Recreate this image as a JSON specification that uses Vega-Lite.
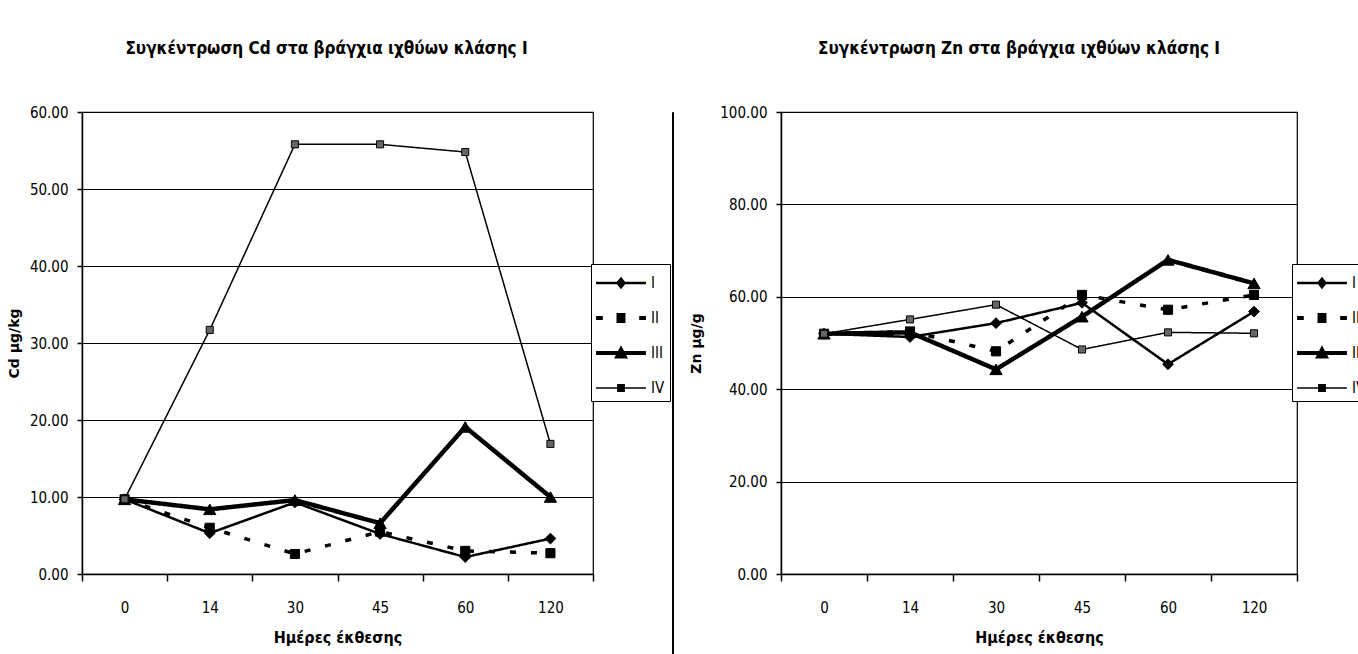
{
  "$schema": "https://vega.github.io/schema/vega-lite/v6.json",
  "background": "white",
  "padding": {"left": 6, "top": 0, "right": 0, "bottom": 0},
  "data": {"values": [
    {"day": 0, "series": "I", "Cd": 9.7, "Zn": 52.0},
    {"day": 14, "series": "I", "Cd": 5.3, "Zn": 51.3},
    {"day": 30, "series": "I", "Cd": 9.3, "Zn": 54.3},
    {"day": 45, "series": "I", "Cd": 5.2, "Zn": 58.7},
    {"day": 60, "series": "I", "Cd": 2.2, "Zn": 45.4},
    {"day": 120, "series": "I", "Cd": 4.6, "Zn": 56.8},
    {"day": 0, "series": "II", "Cd": 9.7, "Zn": 52.0},
    {"day": 14, "series": "II", "Cd": 6.0, "Zn": 52.5},
    {"day": 30, "series": "II", "Cd": 2.6, "Zn": 48.2},
    {"day": 45, "series": "II", "Cd": 5.5, "Zn": 60.4},
    {"day": 60, "series": "II", "Cd": 3.0, "Zn": 57.2},
    {"day": 120, "series": "II", "Cd": 2.7, "Zn": 60.4},
    {"day": 0, "series": "III", "Cd": 9.7, "Zn": 52.0},
    {"day": 14, "series": "III", "Cd": 8.4, "Zn": 52.3},
    {"day": 30, "series": "III", "Cd": 9.6, "Zn": 44.3},
    {"day": 45, "series": "III", "Cd": 6.6, "Zn": 55.7},
    {"day": 60, "series": "III", "Cd": 19.1, "Zn": 68.0},
    {"day": 120, "series": "III", "Cd": 10.0, "Zn": 62.9},
    {"day": 0, "series": "IV", "Cd": 9.7, "Zn": 52.0},
    {"day": 14, "series": "IV", "Cd": 31.7, "Zn": 55.1},
    {"day": 30, "series": "IV", "Cd": 55.8, "Zn": 58.3},
    {"day": 45, "series": "IV", "Cd": 55.8, "Zn": 48.6},
    {"day": 60, "series": "IV", "Cd": 54.8, "Zn": 52.3},
    {"day": 120, "series": "IV", "Cd": 16.9, "Zn": 52.1}
  ]},
  "spacing": 13,
  "resolve": {"scale": {"shape": "independent", "fill": "independent", "size": "independent", "strokeDash": "independent", "strokeWidth": "independent", "x": "independent", "y": "independent"}, "legend": {"shape": "independent"}},
  "hconcat": [
    {
      "spacing": -3,
      "resolve": {"scale": {"shape": "independent", "fill": "independent", "size": "independent", "strokeDash": "independent", "strokeWidth": "independent", "x": "independent", "y": "independent"}, "legend": {"shape": "independent"}},
      "hconcat": [
        {
          "width": 511,
          "height": 462,
          "title": {"text": ["", "Συγκέντρωση Cd στα βράγχια ιχθύων κλάσης I"], "lineHeight": 39, "offset": 47, "dx": -11},
          "resolve": {"scale": {"shape": "independent"}},
          "layer": [
            {
              "mark": {"type": "line", "color": "black", "strokeCap": "butt"},
              "encoding": {
                "x": {"field": "day", "type": "ordinal", "bandPosition": 0.5, "scale": {"type": "band", "paddingInner": 0, "paddingOuter": 0}, "title": "Ημέρες έκθεσης"},
                "y": {"field": "Cd", "type": "quantitative", "scale": {"domain": [0, 60], "nice": false}, "axis": {"values": [0, 10, 20, 30, 40, 50, 60], "format": ".2f", "titlePadding": 8}, "title": "Cd μg/kg"},
                "strokeDash": {"field": "series", "type": "nominal", "scale": {"domain": ["II", "I", "III", "IV"], "range": [[6, 15], [1, 0], [1, 0], [1, 0]]}, "legend": null},
                "strokeWidth": {"field": "series", "type": "ordinal", "scale": {"domain": ["IV", "I", "II", "III"], "range": [1.5, 4.5]}, "legend": null}
              }
            },
            {
              "mark": {"type": "point", "filled": true, "stroke": "black", "strokeWidth": 1, "opacity": 1},
              "encoding": {
                "x": {"field": "day", "type": "ordinal", "bandPosition": 0.5},
                "y": {"field": "Cd", "type": "quantitative"},
                "shape": {"field": "series", "type": "nominal", "scale": {"domain": ["IV", "I", "II", "III"], "range": ["square", "diamond", "square", "triangle-up"]}, "legend": null},
                "size": {"field": "series", "type": "ordinal", "scale": {"domain": ["IV", "II", "I", "III"], "range": [50, 150]}, "legend": null},
                "fill": {"field": "series", "type": "nominal", "scale": {"domain": ["IV", "III", "II", "I"], "range": ["#666666", "black", "black", "black"]}, "legend": null}
              }
            },
            {
              "mark": {"type": "point", "filled": true, "color": "black", "opacity": 0},
              "encoding": {
                "x": {"field": "day", "type": "ordinal", "bandPosition": 0.5},
                "y": {"field": "Cd", "type": "quantitative"},
                "shape": {"field": "series", "type": "nominal",
                  "scale": {"domain": ["I", "II", "III", "IV"], "range": [
                    "M-1.78,-0.09H1.78V0.09H-1.78Z M0,-0.45L0.36,0L0,0.45L-0.36,0Z",
                    "M-1.78,-0.14H-1.3V0.14H-1.78Z M1.3,-0.14H1.78V0.14H1.3Z M-0.32,-0.36H0.32V0.36H-0.32Z",
                    "M-1.78,-0.14H1.78V0.14H-1.78Z M0,-0.55L0.5,0.4L-0.5,0.4Z",
                    "M-1.78,-0.05H1.78V0.05H-1.78Z M-0.28,-0.28H0.28V0.28H-0.28Z"]},
                  "legend": {"orient": "none", "legendX": 509, "legendY": 152, "title": null, "labelColor": "black", "symbolOpacity": 1, "symbolFillColor": "black"}}
              }
            }
          ]
        },
        {
          "width": 1,
          "height": 654,
          "view": {"stroke": "black", "strokeWidth": 1},
          "mark": {"type": "point", "opacity": 0}
        }
      ]
    },
    {
      "width": 516,
      "height": 462,
      "title": {"text": ["", "Συγκέντρωση Zn στα βράγχια ιχθύων κλάσης I"], "lineHeight": 39, "offset": 47, "dx": -20},
      "resolve": {"scale": {"shape": "independent"}},
      "layer": [
        {
          "mark": {"type": "line", "color": "black", "strokeCap": "butt"},
          "encoding": {
            "x": {"field": "day", "type": "ordinal", "bandPosition": 0.5, "scale": {"type": "band", "paddingInner": 0, "paddingOuter": 0}, "title": "Ημέρες έκθεσης"},
            "y": {"field": "Zn", "type": "quantitative", "scale": {"domain": [0, 100], "nice": false}, "axis": {"values": [0, 20, 40, 60, 80, 100], "format": ".2f", "titlePadding": 16}, "title": "Zn μg/g"},
            "strokeDash": {"field": "series", "type": "nominal", "scale": {"domain": ["II", "I", "III", "IV"], "range": [[6, 15], [1, 0], [1, 0], [1, 0]]}, "legend": null},
            "strokeWidth": {"field": "series", "type": "ordinal", "scale": {"domain": ["IV", "I", "II", "III"], "range": [1.5, 4.5]}, "legend": null}
          }
        },
        {
          "mark": {"type": "point", "filled": true, "stroke": "black", "strokeWidth": 1, "opacity": 1},
          "encoding": {
            "x": {"field": "day", "type": "ordinal", "bandPosition": 0.5},
            "y": {"field": "Zn", "type": "quantitative"},
            "shape": {"field": "series", "type": "nominal", "scale": {"domain": ["IV", "I", "II", "III"], "range": ["square", "diamond", "square", "triangle-up"]}, "legend": null},
            "size": {"field": "series", "type": "ordinal", "scale": {"domain": ["IV", "II", "I", "III"], "range": [50, 150]}, "legend": null},
            "fill": {"field": "series", "type": "nominal", "scale": {"domain": ["IV", "III", "II", "I"], "range": ["#666666", "black", "black", "black"]}, "legend": null}
          }
        },
        {
          "mark": {"type": "point", "filled": true, "color": "black", "opacity": 0},
          "encoding": {
            "x": {"field": "day", "type": "ordinal", "bandPosition": 0.5},
            "y": {"field": "Zn", "type": "quantitative"},
            "shape": {"field": "series", "type": "nominal",
              "scale": {"domain": ["I", "II", "III", "IV"], "range": [
                "M-1.78,-0.09H1.78V0.09H-1.78Z M0,-0.45L0.36,0L0,0.45L-0.36,0Z",
                "M-1.78,-0.14H-1.3V0.14H-1.78Z M1.3,-0.14H1.78V0.14H1.3Z M-0.32,-0.36H0.32V0.36H-0.32Z",
                "M-1.78,-0.14H1.78V0.14H-1.78Z M0,-0.55L0.5,0.4L-0.5,0.4Z",
                "M-1.78,-0.05H1.78V0.05H-1.78Z M-0.28,-0.28H0.28V0.28H-0.28Z"]},
              "legend": {"orient": "none", "legendX": 511, "legendY": 152, "title": null, "labelColor": "black", "symbolOpacity": 1, "symbolFillColor": "black"}}
          }
        }
      ]
    }
  ],
  "config": {
    "font": "'DejaVu Sans Condensed', 'Liberation Sans Narrow', sans-serif",
    "view": {"stroke": "black", "strokeWidth": 1.2},
    "title": {"font": "'DejaVu Sans Condensed', 'Liberation Sans Narrow', sans-serif", "fontSize": 17, "fontWeight": "bold", "color": "black", "anchor": "middle"},
    "axis": {
      "labelFont": "'DejaVu Sans Condensed', 'Liberation Sans Narrow', sans-serif",
      "labelFontSize": 15, "labelColor": "black",
      "domainColor": "black", "domainWidth": 1.5,
      "tickColor": "black", "tickWidth": 1.5,
      "gridColor": "black", "gridWidth": 1.2, "gridOpacity": 1,
      "titleColor": "black"
    },
    "axisX": {"grid": false, "tickBand": "extent", "labelAngle": 0, "tickSize": 7, "labelPadding": 19, "titlePadding": 14,
      "titleFont": "'DejaVu Sans Condensed', 'Liberation Sans Narrow', sans-serif", "titleFontSize": 16, "titleFontWeight": "bold"},
    "axisY": {"grid": true, "tickSize": 5, "labelPadding": 9, "titleFont": "DejaVu Sans", "titleFontSize": 14, "titleFontWeight": "bold"},
    "legend": {
      "strokeColor": "black", "fillColor": "white", "padding": 5,
      "symbolSize": 784, "symbolStrokeWidth": 0, "symbolOffset": 11,
      "labelOffset": 16, "rowPadding": 13,
      "labelFont": "'DejaVu Sans Condensed', 'Liberation Sans Narrow', sans-serif",
      "labelFontSize": 15, "labelColor": "black"
    }
  }
}
